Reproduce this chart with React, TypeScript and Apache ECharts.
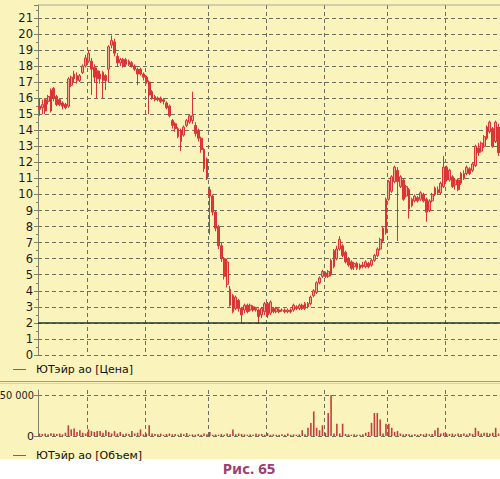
import React, { useEffect, useRef } from "react";
import * as echarts from "echarts";

const opens = [
  15.5,15.4,15.9,15.8,15.2,16.6,16.1,15.9,15.7,15.6,
  15.5,16.8,17.2,17.4,17.1,17.6,18.0,18.3,18.3,17.9,
  17.7,17.2,17.6,17.4,17.8,19.3,19.5,18.6,18.2,18.4,
  18.1,18.3,18.2,18.0,17.8,17.8,17.5,17.3,17.0,16.4,
  16.1,16.0,16.0,15.9,15.7,15.5,14.6,14.4,14.1,14.0,
  13.7,14.3,14.5,14.6,14.3,14.0,13.5,12.8,12.2,10.3,
  9.9,8.9,8.0,6.8,6.0,4.4,4.1,3.7,2.9,3.4,
  2.9,2.8,3.1,2.8,3.0,2.9,2.8,2.5,2.7,3.2,
  2.6,2.9,2.7,2.8,2.8,2.8,2.7,2.8,2.8,3.0,
  2.9,3.1,2.9,3.2,3.2,3.7,3.9,4.5,4.9,5.1,
  4.9,5.0,5.5,6.0,6.6,6.8,6.4,6.0,5.8,5.5,
  5.7,5.4,5.6,5.5,5.7,5.6,5.9,6.2,6.6,7.1,
  7.6,9.7,10.2,10.8,11.5,10.5,10.9,9.9,10.3,9.3,
  9.6,9.8,9.7,10.0,9.7,9.0,9.6,10.0,10.3,10.1,
  10.5,11.7,10.9,11.1,10.6,10.9,10.7,11.3,11.3,11.6,
  11.5,11.8,12.9,12.7,13.0,13.5,13.9,14.1,13.3,14.2,
];
const closes = [
  15.3,15.6,15.2,16.1,16.5,16.0,15.6,15.6,15.5,15.4,
  17.2,17.3,17.5,17.1,17.4,18.0,18.5,18.8,17.8,17.3,
  17.2,17.5,17.1,17.1,19.2,19.6,18.8,18.2,18.4,18.0,
  18.4,18.1,18.0,17.8,17.5,17.5,17.3,17.0,16.2,16.0,
  15.9,15.9,15.8,15.8,15.4,14.9,14.3,14.1,13.6,13.3,
  14.2,14.6,14.9,14.9,13.8,13.5,12.8,11.6,11.0,9.9,
  8.9,7.9,6.8,6.0,4.9,5.8,3.1,2.7,3.6,2.9,
  2.5,3.1,2.7,3.1,2.8,2.8,2.4,2.9,3.2,2.5,
  3.3,2.7,2.9,2.7,2.8,2.7,2.8,2.7,3.1,2.9,
  3.1,2.9,3.2,3.0,3.6,4.0,4.5,4.8,5.2,4.9,
  5.2,5.9,6.5,6.6,7.2,6.2,5.8,5.6,5.4,5.7,
  5.4,5.6,5.5,5.8,5.5,5.9,6.2,6.6,7.2,7.9,
  9.7,10.8,11.1,11.7,10.8,11.1,9.7,10.5,9.1,9.7,
  9.9,9.6,10.1,9.6,8.9,9.6,10.0,10.4,10.1,10.7,
  11.7,10.9,11.5,10.5,10.9,10.3,11.3,11.0,11.7,11.3,
  11.9,13.0,12.6,13.2,13.6,14.2,14.5,13.0,14.5,12.6,
];
const lows = [
  14.9,15.0,15.0,15.6,15.1,15.8,15.5,15.5,15.3,15.3,
  15.4,16.7,17.0,16.9,17.0,17.5,17.9,18.2,16.2,17.0,
  16.0,16.9,16.0,16.5,17.0,19.1,18.6,18.0,18.0,17.9,
  18.0,18.0,17.9,17.7,16.8,17.4,17.1,16.9,15.0,15.9,
  15.8,15.8,15.7,15.6,15.3,14.8,14.1,13.9,13.5,12.7,
  13.6,14.2,14.4,14.4,13.6,13.3,12.6,11.4,10.9,7.5,
  8.7,7.7,6.6,5.8,4.7,4.2,3.0,2.6,2.8,2.7,
  2.0,2.6,2.6,2.7,2.7,2.7,2.0,2.3,2.5,2.3,
  2.5,2.6,2.6,2.6,2.7,2.6,2.6,2.6,2.7,2.8,
  2.8,2.8,2.8,2.9,3.1,3.6,3.8,4.4,4.8,4.8,
  4.8,4.9,5.4,5.9,6.5,6.1,5.7,5.5,5.3,5.3,
  5.3,5.3,5.4,5.4,5.4,5.5,5.8,6.1,6.5,7.0,
  7.5,9.6,10.1,10.7,7.1,10.4,9.6,9.8,8.5,9.2,
  9.5,9.5,9.6,9.5,8.3,8.9,9.5,9.9,10.0,10.0,
  10.4,10.8,10.8,10.4,10.3,10.2,10.6,10.9,11.2,11.2,
  11.4,11.7,12.4,12.6,12.9,13.4,13.8,12.9,13.2,12.4,
];
const highs = [
  16.0,15.9,16.0,16.2,16.6,16.7,16.2,16.0,15.8,15.7,
  17.3,17.4,17.7,17.6,17.5,18.1,18.7,19.0,18.5,18.1,
  17.9,17.7,17.7,17.5,19.3,19.9,19.7,18.8,18.5,18.5,
  18.5,18.4,18.3,18.1,17.9,17.9,17.6,17.4,17.1,16.5,
  16.2,16.1,16.1,16.0,15.8,15.6,14.7,14.5,14.2,14.1,
  14.3,14.7,15.0,16.4,14.5,14.1,13.6,12.9,12.3,10.5,
  10.0,9.0,8.1,7.0,6.1,6.0,4.3,3.8,3.7,3.5,
  3.0,3.2,3.2,3.2,3.1,3.0,2.9,3.0,3.3,3.3,
  3.4,3.0,3.0,2.9,2.9,2.9,2.9,2.9,3.2,3.1,
  3.2,3.2,3.3,3.3,3.7,4.1,4.6,4.9,5.3,5.2,
  5.3,6.0,6.6,6.8,7.4,6.9,6.5,6.1,5.9,5.8,
  5.8,5.7,5.8,5.9,5.8,6.0,6.3,6.7,7.3,8.0,
  9.8,10.9,11.2,11.8,11.7,11.2,11.0,10.6,10.4,9.8,
  10.0,9.9,10.2,10.1,9.8,9.7,10.1,10.5,10.5,10.8,
  12.4,11.8,11.6,11.2,11.0,11.0,11.4,11.5,11.8,11.7,
  12.0,13.1,13.2,13.3,13.7,14.3,14.6,14.2,14.6,14.4,
];
const volumes = [
  3000,2500,3000,2000,3500,3000,2500,3000,2000,4000,
  13000,8000,9000,5000,7000,4000,3000,8000,6000,5000,
  6000,6000,4000,7000,5000,3000,6000,3000,5000,2000,
  3000,2500,6000,3000,4000,8000,2000,3000,13000,3000,
  2500,2000,3000,1500,2500,3000,2000,2500,1500,3000,
  2000,3500,1500,2000,1500,2500,1500,3000,2000,5000,
  1500,2000,1500,2500,1500,3000,2000,8000,2000,3000,
  2500,2000,1500,2000,1500,3000,2000,2500,1500,3500,
  1500,2000,1500,1500,2000,1500,3000,1500,2000,1500,
  2000,7000,2000,10000,16000,30000,10000,7000,13000,4000,
  28000,50000,3000,15000,3000,15000,2500,2000,1500,2000,
  1500,1500,2000,4000,5000,16000,28000,28000,20000,3000,
  15000,15000,10000,5000,6000,3000,2000,2500,2000,1500,
  2000,1500,2500,2000,3000,2000,2500,7000,10000,3000,
  4000,3000,2500,3000,2000,3000,2500,3000,2000,3500,
  2500,10000,6000,3000,4000,4000,3000,4000,10000,3000,
];
const monthStarts = [17, 37, 59, 79, 99, 121, 141];
const supportLevel = 2;
const priceLegend = "ЮТэйр ао [Цена]";
const volumeLegend = "ЮТэйр ао [Объем]";
const caption = "Рис. 65";

const BG = "#FAF3BC";
const GRID = "#6f6f60";
const FONT = "DejaVu Sans";

export default function App() {
  const ref = useRef<HTMLDivElement>(null);
  useEffect(() => {
    if (!ref.current) return;
    const chart = echarts.init(ref.current, null, { renderer: "svg" });
    const cats = opens.map((_, i) => String(i));
    const ohlc = opens.map((o, i) => [o, closes[i], lows[i], highs[i]]);
    const splitFn = (idx: number) => monthStarts.includes(idx);
    const splitStyle = { color: GRID, width: 1, type: [4, 3] as any };
    chart.setOption({
      animation: false,
      backgroundColor: "transparent",
      grid: [
        { left: 38, right: 0, top: 5, height: 350, containLabel: false, outerBoundsMode: "none" },
        { left: 38, right: 0, top: 390, height: 46, containLabel: false, outerBoundsMode: "none" },
      ],
      xAxis: [
        {
          type: "category", gridIndex: 0, data: cats, boundaryGap: true,
          axisLine: { show: false }, axisTick: { show: false }, axisLabel: { show: false },
          splitLine: { show: true, interval: splitFn, lineStyle: splitStyle },
        },
        {
          type: "category", gridIndex: 1, data: cats, boundaryGap: true,
          axisLine: { show: false }, axisTick: { show: false }, axisLabel: { show: false },
          splitLine: { show: true, interval: splitFn, lineStyle: splitStyle },
        },
      ],
      yAxis: [
        {
          type: "value", gridIndex: 0, min: 0, max: 21.8, interval: 1,
          axisLine: { show: true, lineStyle: { color: "#808070" } },
          axisTick: { show: true, length: 4, lineStyle: { color: "#808070" } },
          minorTick: { show: true, splitNumber: 2, length: 2, lineStyle: { color: "#808070" } },
          axisLabel: { color: "#1a1a1a", fontSize: 11.5, fontFamily: FONT, margin: 5, showMaxLabel: false },
          splitLine: { show: true, showMaxLine: false, lineStyle: splitStyle },
        },
        {
          type: "value", gridIndex: 1, min: 0, max: 56100, interval: 50000,
          axisLine: { show: true, lineStyle: { color: "#808070" } },
          axisTick: { show: true, length: 4, lineStyle: { color: "#808070" } },
          axisLabel: {
            color: "#1a1a1a", fontSize: 11, fontFamily: FONT, margin: 4, showMaxLabel: false,
            formatter: (v: number) => (v === 50000 ? "{s|50 000}" : v === 0 ? "0" : ""),
            rich: { s: { fontSize: 9.8, fontFamily: FONT, color: "#1a1a1a" } },
          },
          splitLine: { show: true, showMaxLine: false, lineStyle: splitStyle },
        },
      ],
      series: [
        {
          type: "candlestick", xAxisIndex: 0, yAxisIndex: 0, data: ohlc,
          barWidth: "80%",
          itemStyle: {
            color: "#f0a898", color0: "#e03a38",
            borderColor: "#d83434", borderColor0: "#d83434", borderWidth: 1,
          },
          markLine: {
            silent: true, symbol: "none", label: { show: false },
            lineStyle: { color: "#1d3a2c", width: 1.6, type: "solid" },
            data: [{ yAxis: supportLevel }],
          },
        },
        {
          type: "bar", xAxisIndex: 1, yAxisIndex: 1, data: volumes,
          barWidth: 1.6, itemStyle: { color: "#c0403c" },
        },
      ],
      graphic: [
        { type: "rect", z: -10, silent: true, shape: { x: 0, y: 0, width: 500, height: 459 }, style: { fill: BG } },
        { type: "line", z: 10, silent: true, shape: { x1: 38, y1: 5, x2: 500, y2: 5 }, style: { stroke: "#a9a99a", lineWidth: 1 } },
        { type: "line", z: 10, silent: true, shape: { x1: 0, y1: 381.5, x2: 500, y2: 381.5 }, style: { stroke: "#9a9a90", lineWidth: 1 } },
        { type: "line", z: 10, silent: true, shape: { x1: 0, y1: 383.5, x2: 500, y2: 383.5 }, style: { stroke: "#d8d4b0", lineWidth: 1 } },
        { type: "line", z: 10, silent: true, shape: { x1: 13, y1: 369.5, x2: 26, y2: 369.5 }, style: { stroke: "#c84444", lineWidth: 1 } },
        { type: "text", z: 10, silent: true, x: 36, y: 369.5, style: { text: priceLegend, fill: "#111", font: `11px '${FONT}'`, verticalAlign: "middle", textAlign: "left" } },
        { type: "line", z: 10, silent: true, shape: { x1: 13, y1: 455.5, x2: 26, y2: 455.5 }, style: { stroke: "#c84444", lineWidth: 1 } },
        { type: "text", z: 10, silent: true, x: 36, y: 455.5, style: { text: volumeLegend, fill: "#111", font: `11px '${FONT}'`, verticalAlign: "middle", textAlign: "left" } },
        { type: "text", z: 10, silent: true, x: 249, y: 468, style: { text: caption, fill: "#9c3d74", font: `bold 15px 'Noto Sans'`, verticalAlign: "middle", textAlign: "center" } },
      ],
    });
    return () => chart.dispose();
  }, []);
  return (
    <div style={{ position: "absolute", left: 0, top: 0, width: 500, height: 479, background: "#fff" }}>
      <div ref={ref} style={{ width: 500, height: 479 }} />
    </div>
  );
}
